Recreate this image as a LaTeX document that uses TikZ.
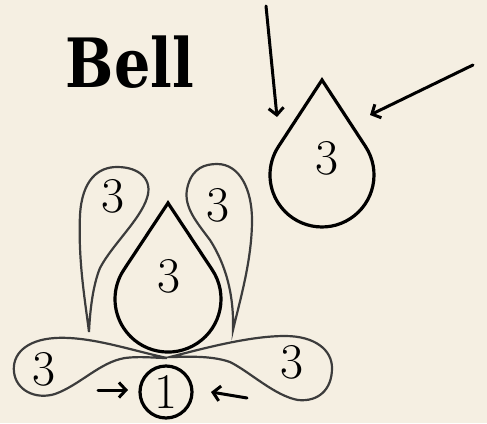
\documentclass[tikz,border=0pt]{standalone}
\usepackage{fontspec}
\newfontfamily\bellfont{DejaVu Serif}[FakeStretch=0.84]
\usetikzlibrary{arrows.meta}
\definecolor{paper}{RGB}{245,239,226}
\definecolor{petalgray}{RGB}{60,60,60}

\begin{document}
\begin{tikzpicture}[
  x=1pt, y=-1pt,
  line width=3pt,
  line cap=round, line join=miter,
  drop/.style={draw=black, line width=3.2pt},
  petal/.style={draw=petalgray, line width=2.2pt},
  hint/.style={line width=3pt, -{Straight Barb[length=7pt,width=15pt]}},
  every node/.style={inner sep=0pt, font=\fontsize{50pt}{50pt}\selectfont}
]
  % ---- Hintergrund ----
  \fill[paper] (0,0) rectangle (487,423);
  \useasboundingbox (0,0) rectangle (487,423);
  % ---- Titel ----
  \node[anchor=base, font=\fontsize{68pt}{68pt}\bellfont\bfseries] (title) at (130,87) {Bell};
  % ---- einzelner Tropfen rechts oben ----
  \draw[drop] (322,80) -- (365.5,146.5) arc[start angle=-33.2, end angle=213.2, radius=52] -- cycle;
  \node (dropR) at (327,158) {3};
  \coordinate (aTopS) at (266,6);
  \coordinate (aTopE) at (277,117);
  \coordinate (aSideS) at (473,65);
  \coordinate (aSideE) at (370,115);
  \draw[hint] (aTopS) -- (aTopE);
  \draw[hint] (aSideS) -- (aSideE);
  % ---- Glocke: mittlerer Tropfen ----
  \draw[drop] (168,203) -- (212.2,269.8) arc[start angle=-33.5, end angle=213.5, radius=53] -- cycle;
  \node (dropC) at (169,276) {3};
  % ---- Glocke: vier Blaetter ----
  \draw[petal] (89,332) .. controls (85,300) and (78,260) .. (80,215)
    .. controls (82,180) and (98,167) .. (117,167)
    .. controls (140,167) and (153,180) .. (147,198)
    .. controls (140,220) and (112,245) .. (100,268)
    .. controls (93,285) and (90,310) .. cycle;
  \node (leafUL) at (113,196) {3};
  \draw[petal] (233,330) .. controls (234,295) and (226,265) .. (210,240)
    .. controls (195,220) and (182,205) .. (188,185)
    .. controls (193,168) and (205,164) .. (217,164)
    .. controls (240,164) and (252,190) .. (252,220)
    .. controls (252,260) and (240,300) .. cycle;
  \node (leafUR) at (218,205) {3};
  \draw[petal] (167,358) .. controls (130,350) and (90,336) .. (55,338)
    .. controls (25,340) and (12,355) .. (14,372)
    .. controls (16,390) and (35,400) .. (55,394)
    .. controls (80,385) and (100,362) .. (125,358)
    .. controls (140,356) and (155,358) .. cycle;
  \node (leafLL) at (44,369) {3};
  \draw[petal] (170,357) .. controls (205,348) and (250,336) .. (285,336)
    .. controls (315,336) and (332,350) .. (332,368)
    .. controls (332,390) and (318,402) .. (298,400)
    .. controls (275,396) and (250,372) .. (230,362)
    .. controls (210,355) and (185,357) .. cycle;
  \node (leafLR) at (292,362) {3};
  % ---- Kreis mit Pfeilen ----
  \node[circle, draw, line width=3.2pt, minimum size=52pt] (one) at (166,392) {1};
  \coordinate (aLeftS) at (98,390);
  \coordinate (aLeftE) at (128,390);
  \coordinate (aRightS) at (247,398);
  \coordinate (aRightE) at (211,392);
  \draw[hint] (aLeftS) -- (aLeftE);
  \draw[hint] (aRightS) -- (aRightE);
\end{tikzpicture}
\end{document}
